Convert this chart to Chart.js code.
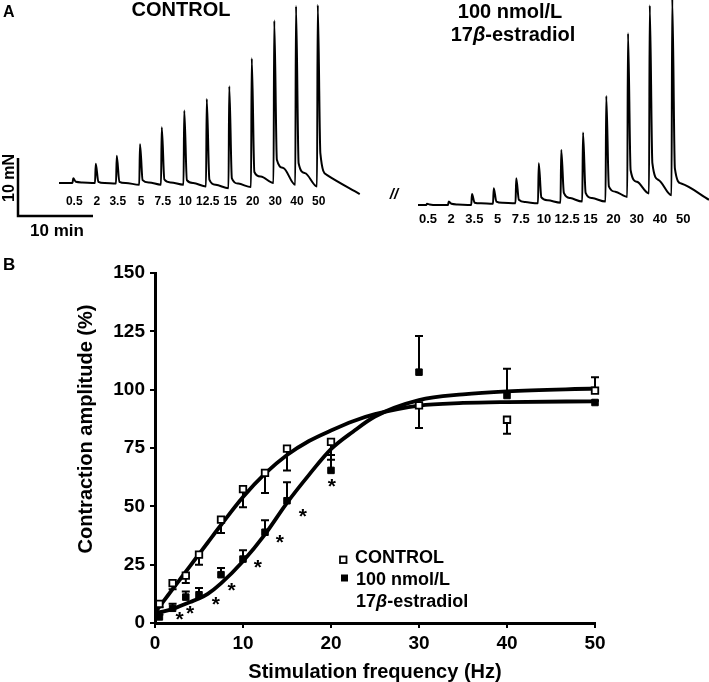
<!DOCTYPE html>
<html>
<head>
<meta charset="utf-8">
<script src="https://cdn.jsdelivr.net/npm/chart.js@4.4.1/dist/chart.umd.min.js"></script>
<style>
  html, body { margin: 0; padding: 0; background: #fff; }
  #wrap { position: relative; width: 709px; height: 682px; overflow: hidden; }
  #traces { position: absolute; left: 0; top: 0; }
  #curves { position: absolute; left: 0; top: 250px; }
</style>
</head>
<body>
<div id="wrap">
  <canvas id="traces" width="709" height="250"></canvas>
  <canvas id="curves" width="709" height="432"></canvas>
</div>
<script>
const FONT = '"Liberation Sans", Arial, Helvetica, sans-serif';

// ---------- panel A: tension recordings ----------
const freqLabels = ['0.5', '2', '3.5', '5', '7.5', '10', '12.5', '15', '20', '30', '40', '50'];

// control trace: stimulus onset (min from start of trace), force above resting tone (mN)
const ctrlStim     = [1.9, 4.9, 7.7, 10.8, 13.7, 16.7, 19.7, 22.7, 25.7, 28.7, 31.6, 34.5];
const ctrlPeak     = [0.8, 3.3, 4.7, 6.7, 9.6, 12.5, 14.5, 16.7, 21.5, 28.0, 30.5, 30.7];
const ctrlShoulder = [0.2, 0.2, 0.2, 0.5, 0.6, 0.5, 0.6, 0.8, 1.9, 4.0, 3.4, 5.1];
const ctrlMid      = [0.1, 0.0, 0.0, 0.1, 0.1, 0.0, -0.3, -0.1, 1.1, 2.6, 1.7, 1.4];
const ctrlTail     = [0.0, -0.1, -0.3, -0.3, -0.3, -0.6, -0.9, -0.7, 0.0, -0.3, -0.6, -1.9];
const ctrlEnd = 40.1;

// 17beta-estradiol trace
const estrStim     = [1.2, 4.1, 7.2, 10.1, 13.1, 16.1, 19.1, 22.0, 25.1, 28.0, 30.9, 33.9];
const estrPeak     = [0.2, 0.6, 1.9, 2.9, 4.6, 7.2, 9.5, 12.5, 18.8, 29.6, 34.4, 35.6];
const estrShoulder = [0.1, 0.2, 0.4, 0.6, 0.9, 1.3, 2.1, 2.1, 3.2, 6.0, 7.2, 6.3];
const estrMid      = [0.0, 0.1, 0.3, 0.4, 0.5, 0.8, 1.2, 1.2, 2.3, 4.0, 4.3, 3.7];
const estrTail     = [0.0, 0.0, 0.2, 0.3, 0.3, 0.4, 0.6, 0.6, 1.4, 2.0, 1.7, 0.9];
const estrEnd = 38.8;

// ---------- panel B: frequency-response ----------
const freqHz   = [0.5, 2, 3.5, 5, 7.5, 10, 12.5, 15, 20, 30, 40, 50];
const ctrlMean = [8.2, 17.1, 20.3, 29.3, 44.3, 57.4, 64.3, 74.7, 77.6, 93.3, 87.1, 99.6];
const ctrlSem  = [1.5, 2.6, 3.2, 4.3, 5.7, 7.8, 8.6, 9.3, 7.6, 9.7, 6.0, 5.7];
const estrMean = [2.6, 6.3, 11.1, 12.1, 20.7, 27.4, 38.9, 52.4, 65.4, 107.5, 97.5, 94.5];
const estrSem  = [1.0, 1.9, 2.4, 2.9, 2.9, 3.8, 5.1, 7.9, 6.6, 15.5, 11.5, 0.8];
// SEM drawn one way only: -1 below the mean, +1 above
const ctrlSemSide = [-1, -1, -1, -1, -1, -1, -1, -1, -1, -1, -1, 1];
const estrSemSide = [1, 1, 1, 1, 1, 1, 1, 1, 1, 1, 1, 1];

// fitted curves
const fitHz   = [0, 1, 2, 3, 4, 5, 6, 7.5, 10, 12.5, 15, 17.5, 20, 22.5, 25, 30, 35, 40, 50];
const ctrlFit = [4.5, 9.5, 14.5, 19.5, 24.5, 29.5, 34.5, 42, 54, 64, 72, 78, 82.5, 86.5, 89.5, 93.2, 94.3, 94.7, 95];
const estrFit = [4.3, 5, 6, 7.5, 9, 10.5, 12.5, 17, 26.5, 38, 51.5, 63.5, 74.5, 82, 88.5, 95.5, 98, 99.3, 100.5];

// significance marks (*)
const starHz  = [2.8, 4.0, 6.9, 8.7, 11.7, 14.2, 16.8, 20.1];
const starPct = [3.0, 5.6, 9.5, 15.2, 25.0, 35.7, 47.1, 59.8];

// ---------- helpers ----------
function tracePoints(stim, peak, shoulder, mid, tail, end, t0, y0) {
  const pts = [{ x: t0, y: y0 }];
  stim.forEach((t, i) => {
    const before = i ? tail[i - 1] : 0;
    pts.push({ x: t0 + t - 0.1, y: y0 + before });
    pts.push({ x: t0 + t, y: y0 + peak[i] });
    pts.push({ x: t0 + t + 0.35, y: y0 + shoulder[i] });
    pts.push({ x: t0 + t + 1.2, y: y0 + mid[i] });
  });
  pts.push({ x: t0 + end, y: y0 + tail[tail.length - 1] });
  return pts;
}

function bold(size, italic) {
  return (italic ? 'italic ' : '') + 'bold ' + size + 'px ' + FONT;
}

// draw text pieces in a row, some italic ("17β-estradiol")
function mixedText(ctx, parts, x, y, size, align) {
  const widths = parts.map(([t, it]) => { ctx.font = bold(size, it); return ctx.measureText(t).width; });
  const total = widths.reduce((a, b) => a + b, 0);
  let cx = align === 'center' ? x - total / 2 : x;
  ctx.textAlign = 'left';
  parts.forEach(([t, it], i) => {
    ctx.font = bold(size, it);
    ctx.fillText(t, cx, y);
    cx += widths[i];
  });
}

// ---------- panel A chart ----------
const PX_PER_MIN = 7.5, PX_PER_MN = 5.8;       // from the 10 min / 10 mN scale bars
const CTRL_T0 = 59 / PX_PER_MIN, ESTR_T0 = 418 / PX_PER_MIN;
const ESTR_Y0 = -22 / PX_PER_MN;

const panelA = {
  id: 'panelA',
  afterDraw(chart) {
    const { ctx, scales: { x, y } } = chart;
    ctx.save();
    ctx.fillStyle = '#000';
    ctx.strokeStyle = '#000';
    ctx.textBaseline = 'alphabetic';

    ctx.font = bold(16);
    ctx.textAlign = 'left';
    ctx.fillText('A', 3, 17);

    ctx.font = bold(20);
    ctx.textAlign = 'center';
    ctx.fillText('CONTROL', 181, 16);
    ctx.fillText('100 nmol/L', 510, 18);
    mixedText(ctx, [['17', false], ['β', true], ['-estradiol', false]], 513, 41, 20, 'center');

    // scale bar 10 mN / 10 min
    const sx = x.getPixelForValue(2.4), sy = y.getPixelForValue(-5.7);
    ctx.lineWidth = 2.5;
    ctx.beginPath();
    ctx.moveTo(sx, y.getPixelForValue(-5.7 + 10));
    ctx.lineTo(sx, sy);
    ctx.lineTo(x.getPixelForValue(2.4 + 10), sy);
    ctx.stroke();

    ctx.font = bold(17);
    ctx.textAlign = 'center';
    ctx.fillText('10 min', 57, 236);
    ctx.save();
    ctx.translate(14, 178);
    ctx.rotate(-Math.PI / 2);
    ctx.font = bold(16);
    ctx.fillText('10 mN', 0, 0);
    ctx.restore();

    ctx.font = bold(15, true);
    ctx.fillText('//', 394, 199);

    ctx.font = bold(12);
    freqLabels.forEach((lab, i) => {
      ctx.fillText(lab, x.getPixelForValue(CTRL_T0 + ctrlStim[i]) + 1, 205);
    });
    ctx.font = bold(13);
    freqLabels.forEach((lab, i) => {
      ctx.fillText(lab, 428 + i * 23.2, 223);
    });
    ctx.restore();
  }
};

new Chart(document.getElementById('traces'), {
  type: 'line',
  data: {
    datasets: [
      {
        data: tracePoints(ctrlStim, ctrlPeak, ctrlShoulder, ctrlMid, ctrlTail, ctrlEnd, CTRL_T0, 0),
        borderColor: '#000', borderWidth: 2, pointRadius: 0, cubicInterpolationMode: 'monotone'
      },
      {
        data: tracePoints(estrStim, estrPeak, estrShoulder, estrMid, estrTail, estrEnd, ESTR_T0, ESTR_Y0),
        borderColor: '#000', borderWidth: 2, pointRadius: 0, cubicInterpolationMode: 'monotone'
      }
    ]
  },
  options: {
    responsive: false,
    animation: false,
    devicePixelRatio: 1,
    layout: { padding: 0 },
    plugins: { legend: { display: false }, tooltip: { enabled: false } },
    scales: {
      x: { type: 'linear', display: false, min: 0, max: 709 / PX_PER_MIN },
      y: { display: false, min: -(250 - 183) / PX_PER_MN, max: 183 / PX_PER_MN }
    }
  },
  plugins: [panelA]
});

// ---------- panel B chart ----------
const errorBars = {
  id: 'errorBars',
  beforeDatasetsDraw(chart) {
    const { ctx, scales: { x, y } } = chart;
    ctx.save();
    ctx.strokeStyle = '#000';
    ctx.lineWidth = 2;
    const draw = (mean, sem, side) => freqHz.forEach((f, i) => {
      const px = x.getPixelForValue(f);
      const y0 = y.getPixelForValue(mean[i]);
      const y1 = y.getPixelForValue(mean[i] + side[i] * sem[i]);
      ctx.beginPath();
      ctx.moveTo(px, y0);
      ctx.lineTo(px, y1);
      ctx.moveTo(px - 4, y1);
      ctx.lineTo(px + 4, y1);
      ctx.stroke();
    });
    draw(ctrlMean, ctrlSem, ctrlSemSide);
    draw(estrMean, estrSem, estrSemSide);
    ctx.restore();
  }
};

const extras = {
  id: 'extras',
  afterDraw(chart) {
    const { ctx, scales: { x, y } } = chart;
    ctx.save();
    ctx.fillStyle = '#000';
    ctx.strokeStyle = '#000';

    // asterisks
    ctx.font = bold(21);
    ctx.textAlign = 'center';
    ctx.textBaseline = 'middle';
    starHz.forEach((f, i) => {
      ctx.fillText('*', x.getPixelForValue(f), y.getPixelForValue(starPct[i]) + 4);
    });

    ctx.textBaseline = 'alphabetic';
    ctx.textAlign = 'left';
    ctx.font = bold(17);
    ctx.fillText('B', 3, 20);

    // y title
    ctx.save();
    ctx.translate(86, 179);
    ctx.rotate(-Math.PI / 2);
    ctx.font = bold(20);
    ctx.textAlign = 'center';
    ctx.textBaseline = 'middle';
    ctx.fillText('Contraction amplitude (%)', 0, 0);
    ctx.restore();

    // legend
    ctx.lineWidth = 1.8;
    ctx.fillStyle = '#fff';
    ctx.fillRect(340, 306.5, 6.5, 6.5);
    ctx.strokeRect(340, 306.5, 6.5, 6.5);
    ctx.fillStyle = '#000';
    ctx.fillRect(341, 324.5, 7, 7);
    ctx.font = bold(18);
    ctx.fillText('CONTROL', 355, 313);
    ctx.fillText('100 nmol/L', 356, 335);
    mixedText(ctx, [['17', false], ['β', true], ['-estradiol', false]], 356, 357, 18, 'left');
    ctx.restore();
  }
};

const tickFont = { family: FONT, size: 19, weight: 'bold' };
const axisGrid = { display: true, drawOnChartArea: false, drawTicks: true, tickLength: 5, color: '#000', lineWidth: 2 };
const axisBorder = { display: true, color: '#000', width: 3 };

new Chart(document.getElementById('curves'), {
  type: 'scatter',
  data: {
    datasets: [
      {
        label: 'CONTROL',
        data: freqHz.map((f, i) => ({ x: f, y: ctrlMean[i] })),
        pointStyle: 'rect', pointRadius: 4.6, backgroundColor: '#fff', borderColor: '#000', borderWidth: 1.8,
        order: 0, clip: false
      },
      {
        label: '100 nmol/L 17β-estradiol',
        data: freqHz.map((f, i) => ({ x: f, y: estrMean[i] })),
        pointStyle: 'rect', pointRadius: 4.6, backgroundColor: '#000', borderColor: '#000', borderWidth: 1,
        order: 1, clip: false
      },
      {
        type: 'line', data: fitHz.map((f, i) => ({ x: f, y: ctrlFit[i] })),
        borderColor: '#000', borderWidth: 3.8, pointRadius: 0, cubicInterpolationMode: 'monotone', order: 2
      },
      {
        type: 'line', data: fitHz.map((f, i) => ({ x: f, y: estrFit[i] })),
        borderColor: '#000', borderWidth: 3.8, pointRadius: 0, cubicInterpolationMode: 'monotone', order: 3
      }
    ]
  },
  options: {
    responsive: false,
    animation: false,
    devicePixelRatio: 1,
    layout: { padding: { left: 0, top: 23, right: 114, bottom: 0 } },
    plugins: { legend: { display: false }, tooltip: { enabled: false } },
    scales: {
      x: {
        type: 'linear', min: 0, max: 50,
        ticks: { stepSize: 10, color: '#000', font: tickFont, padding: 4, maxRotation: 0 },
        grid: axisGrid, border: axisBorder,
        title: { display: true, text: 'Stimulation frequency (Hz)', color: '#000',
                 font: { family: FONT, size: 20, weight: 'bold', lineHeight: 1 }, padding: 0 },
        afterFit: s => { s.height = 59; }
      },
      y: {
        min: 0, max: 150,
        ticks: { stepSize: 25, color: '#000', font: tickFont, padding: 5 },
        grid: axisGrid, border: axisBorder,
        afterFit: s => { s.width = 155; }
      }
    }
  },
  plugins: [errorBars, extras]
});
</script>
</body>
</html>
